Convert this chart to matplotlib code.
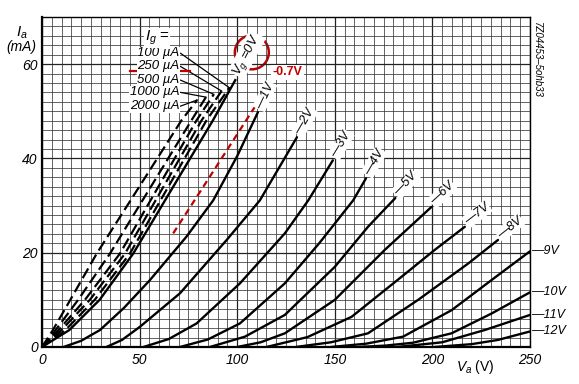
import numpy as np
import matplotlib
matplotlib.use('Agg')
import matplotlib.pyplot as plt
from matplotlib.patches import Ellipse

plt.rcParams['font.family'] = ['Liberation Sans', 'DejaVu Sans']
plt.rcParams['mathtext.fontset'] = 'custom'
plt.rcParams['mathtext.it'] = 'Liberation Sans:italic'
plt.rcParams['mathtext.rm'] = 'Liberation Sans'

# anode voltage (V) / anode current (mA), one pair per grid voltage
va_1v = [11, 20, 29.7, 42, 55.3, 74, 87.7, 100, 110.6]
ia_1v = [0, 1.3, 3.6, 8.3, 14.2, 23.4, 31.1, 40.5, 49.8]
va_2v = [33, 41, 50.2, 70.7, 94.6, 111.6, 130.6]
ia_2v = [0, 1.5, 4.3, 11.4, 22.7, 31.1, 44.5]
va_3v = [52, 65, 79.2, 101.4, 124.4, 136.4, 149]
ia_3v = [0, 1.7, 5.0, 13.5, 24.1, 31.1, 39.6]
va_4v = [70.7, 85, 101.4, 124.4, 142, 159.4, 166]
ia_4v = [0, 1.6, 5.0, 13.5, 22.0, 31.1, 35.8]
va_5v = [86, 104, 124.4, 150, 167, 181]
ia_5v = [0, 2.2, 6.8, 17.0, 25.5, 31.6]
va_6v = [100, 112, 124.4, 150, 175.6, 199.5]
ia_6v = [0, 1.0, 2.9, 10.0, 20.6, 29.7]
va_7v = [115, 136, 158.6, 184.2, 201.2, 216.6]
ia_7v = [0, 2.1, 6.4, 14.9, 20.6, 25.5]
va_8v = [130, 148, 167, 192.7, 218.3, 233.6]
ia_8v = [0, 1.0, 2.9, 10.0, 17.7, 22.7]
va_9v = [148, 166, 185, 209.8, 230.3, 250]
ia_9v = [0, 0.7, 2.2, 7.8, 14.2, 20.3]
va_10v = [162, 176, 190, 209.8, 230.3, 250]
ia_10v = [0, 0.3, 0.9, 2.9, 7.1, 11.6]
va_11v = [182, 205, 226.8, 250]
ia_11v = [0, 1.0, 3.6, 6.8]
va_12v = [201, 220, 233.6, 250]
ia_12v = [0, 0.6, 1.5, 3.3]

grid_labels = ['1V', '2V', '3V', '4V', '5V', '6V', '7V', '8V', '9V', '10V', '11V', '12V']

# Vg = 0 V and constant grid current lines
va_0v = [0, 14, 29.5, 46.7, 87.6, 99]
ia_0v = [0, 3.6, 10, 19.8, 48.1, 56.6]
ig_labels = ['100 µA', '250 µA', '500 µA', '1000 µA', '2000 µA']
va_ig100 = [0, 12, 27, 45, 84.3, 96]
ia_ig100 = [0, 3.6, 10, 19.8, 48.1, 55.0]
va_ig250 = [0, 10, 24.5, 42.5, 81.8, 92]
ia_ig250 = [0, 3.6, 10, 19.8, 48.1, 54.3]
va_ig500 = [0, 8.5, 22, 39.9, 79.2, 88]
ia_ig500 = [0, 3.6, 10, 19.8, 48.1, 53.6]
va_ig1000 = [0, 7, 18.5, 34.8, 76.6, 84]
ia_ig1000 = [0, 3.6, 10, 19.8, 48.1, 53.0]
va_ig2000 = [0, 5.6, 14.5, 28, 71.5, 79.5]
ia_ig2000 = [0, 3.6, 10, 19.8, 48.1, 52.4]

# red hand-drawn -0.7V guess
va_red = [67.2, 117.1]
ia_red = [24.1, 56.1]

red = '#c00000'

fig = plt.figure(figsize=(5.79, 3.84), dpi=100)
ax = fig.add_axes([42 / 579, 1 - 347 / 384, 488 / 579, 330 / 384])
ax.set_xlim(0, 250)
ax.set_ylim(0, 70)

# graph paper
ax.set_xticks(np.arange(0, 251, 50))
ax.set_yticks(np.arange(0, 61, 20))
ax.set_xticks(np.arange(0, 251, 5), minor=True)
ax.set_yticks(np.arange(0, 71, 2), minor=True)
ax.grid(which='minor', color='#3a3a3a', lw=0.55)
ax.grid(which='major', color='#222222', lw=0.9)
ax.tick_params(which='both', length=0)
ax.tick_params(axis='x', pad=4)
ax.tick_params(axis='y', pad=3)
for lab in ax.get_xticklabels() + ax.get_yticklabels():
    lab.set_fontstyle('italic')
    lab.set_fontsize(10)
for s in ['left', 'bottom']:
    ax.spines[s].set_linewidth(1.6)
for s in ['top', 'right']:
    ax.spines[s].set_linewidth(1.0)

curves = [(va_1v, ia_1v), (va_2v, ia_2v), (va_3v, ia_3v), (va_4v, ia_4v),
          (va_5v, ia_5v), (va_6v, ia_6v), (va_7v, ia_7v), (va_8v, ia_8v),
          (va_9v, ia_9v), (va_10v, ia_10v), (va_11v, ia_11v), (va_12v, ia_12v)]

white = dict(facecolor='white', edgecolor='none', pad=0.6)

for (x, y), lab in zip(curves, grid_labels):
    ax.plot(x, y, color='black', lw=1.7, solid_joinstyle='round', solid_capstyle='round')
    if x[-1] < 249:
        p = ax.transData.transform([[x[-2], y[-2]], [x[-1], y[-1]]])
        ang = np.degrees(np.arctan2(p[1, 1] - p[0, 1], p[1, 0] - p[0, 0]))
        ax.text(x[-1] + 0.5, y[-1] + 0.8, '\u2014' + lab, rotation=ang, rotation_mode='anchor',
                ha='left', va='center', fontsize=9, fontstyle='italic', bbox=white)
    else:
        ax.text(x[-1] + 0.5, y[-1], '\u2014' + lab, ha='left', va='center',
                fontsize=9, fontstyle='italic', clip_on=False)

ax.plot(va_0v, ia_0v, color='black', lw=1.7)
ig_lines = [(va_ig100, ia_ig100), (va_ig250, ia_ig250), (va_ig500, ia_ig500),
            (va_ig1000, ia_ig1000), (va_ig2000, ia_ig2000)]
label_rows = [62.3, 59.5, 56.6, 54.0, 51.1]
for (x, y), lab, row in zip(ig_lines, ig_labels, label_rows):
    ax.plot(x, y, color='black', lw=1.6, dashes=(5, 2.2))
    ax.text(70.5, row, lab, ha='right', va='center', fontsize=9.5,
            fontstyle='italic', bbox=white)
    ax.plot([71, x[-1]], [row, y[-1]], color='black', lw=0.9)

ax.text(59, 65.5, '$I_g$ =', ha='center', va='center', fontsize=11, bbox=white)
ax.text(99.5, 57.8, '$V_g$ =0V', rotation=62, rotation_mode='anchor', ha='left',
        va='center', fontsize=9.5, fontstyle='italic', bbox=white)

# red annotations
ax.plot(va_red, ia_red, color=red, lw=1.6, dashes=(3, 2))
ax.add_patch(Ellipse((107.5, 62.5), 17.4, 7.2, fill=False, edgecolor=red, lw=1.8))
ax.text(118, 58.3, '-0.7V', color=red, fontweight='bold', fontsize=9,
        ha='left', va='center', bbox=dict(facecolor='white', edgecolor='none', pad=1))
ax.plot([45, 76], [58.5, 58.5], color=red, lw=1.6, clip_on=False)

fig.text(22 / 579, 1 - 33 / 384, '$I_a$', ha='center', va='center', fontsize=11)
fig.text(21 / 579, 1 - 47 / 384, '(mA)', ha='center', va='center', fontsize=10, fontstyle='italic')
ax.text(222, -2.4, '$V_a$ (V)', ha='center', va='top', fontsize=10, clip_on=False)
fig.text(537 / 579, 1 - 60 / 384, '7Z04453\u20135ohb33', rotation=270, ha='center',
         va='center', fontsize=7, fontstyle='italic')

fig.savefig('out.png', dpi=100)
